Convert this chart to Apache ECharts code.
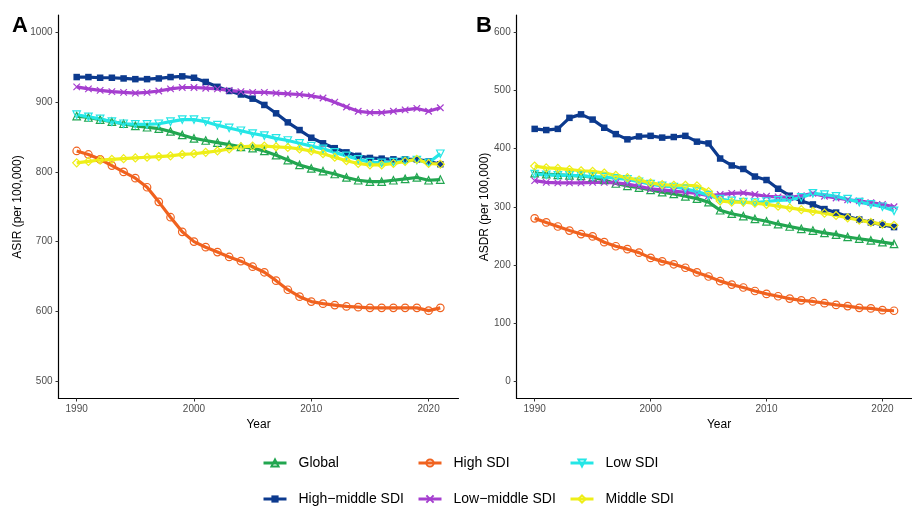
<!DOCTYPE html>
<html>
<head>
<meta charset="utf-8">
<script src="https://cdn.jsdelivr.net/npm/echarts@6/dist/echarts.min.js"></script>
<style>
html,body{margin:0;padding:0;background:#fff;}
#chart{width:912px;height:509px;}
</style>
</head>
<body>
<div id="chart"></div>
<script>
const years = [1990,1991,1992,1993,1994,1995,1996,1997,1998,1999,2000,2001,2002,2003,2004,2005,2006,2007,2008,2009,2010,2011,2012,2013,2014,2015,2016,2017,2018,2019,2020,2021];
const seriesNames = ['Global','High−middle SDI','High SDI','Low−middle SDI','Low SDI','Middle SDI'];
const xTicks = [1990,2000,2010,2020];
const asirTicks = [500,600,700,800,900,1000];
const asdrTicks = [0,100,200,300,400,500,600];

// Panel A: ASIR
const asirGlobal  = [880,878,875,872,869,866,864,862,858,853,848,845,842,839,836,834,830,824,817,810,805,801,797,792,788,786,786,788,790,792,788,789];
const asirHighMid = [936,936,935,935,934,933,933,934,936,937,935,929,922,916,911,905,896,884,871,860,849,841,834,828,823,820,819,818,818,818,815,811];
const asirHigh    = [830,825,818,809,800,791,778,757,735,714,700,692,685,678,672,664,656,644,631,621,614,611,609,607,606,605,605,605,605,605,601,605];
const asirLowMid  = [922,919,917,915,914,913,914,916,919,921,921,920,919,917,915,914,914,913,912,911,909,906,900,893,887,885,885,887,889,891,887,892];
const asirLow     = [882,879,876,872,869,868,868,869,872,875,875,872,867,863,859,855,852,848,845,841,837,833,828,823,818,814,813,814,816,817,813,826];
const asirMid     = [813,815,817,818,819,820,821,822,823,825,826,828,830,833,836,837,837,836,835,833,830,826,821,816,812,810,810,812,815,818,812,811];

// Panel B: ASDR
const asdrGlobal  = [358,356,355,354,353,351,346,340,336,333,329,325,322,318,314,308,294,288,284,279,275,270,266,262,259,255,252,248,245,242,239,236];
const asdrHighMid = [434,432,434,453,459,450,436,425,416,421,422,419,420,422,412,409,383,371,365,352,346,331,319,310,304,296,290,283,278,273,269,265];
const asdrHigh    = [280,273,266,259,253,249,239,232,227,221,212,206,201,195,187,180,172,166,161,155,150,146,142,139,137,134,131,129,126,125,122,121];
const asdrLowMid  = [345,342,341,341,341,342,342,341,339,335,331,329,327,325,323,319,321,323,324,321,318,317,316,319,323,318,315,312,310,307,304,300];
const asdrLow     = [356,355,354,354,353,352,351,349,347,343,339,336,334,331,326,320,313,310,308,307,309,311,312,316,323,321,318,313,308,304,300,293];
const asdrMid     = [370,367,366,364,362,361,358,354,350,346,341,338,337,337,336,326,310,308,308,306,304,301,298,295,292,289,285,281,277,273,270,268];

const asirData = [asirGlobal, asirHighMid, asirHigh, asirLowMid, asirLow, asirMid];
const asdrData = [asdrGlobal, asdrHighMid, asdrHigh, asdrLowMid, asdrLow, asdrMid];

const styles = {
  'Global':          {color:'#22A650', symbol:'triangle', rotate:0,   hollow:true,  size:7.5},
  'High−middle SDI': {color:'#0C3A8E', symbol:'rect',     rotate:0,   hollow:false, size:6.5},
  'High SDI':        {color:'#F0621F', symbol:'circle',   rotate:0,   hollow:true,  size:7.5},
  'Low−middle SDI':  {color:'#A53ECF', symbol:'path://M0,0L10,10M10,0L0,10', rotate:0, hollow:true, size:6.5},
  'Low SDI':         {color:'#24E6E6', symbol:'triangle', rotate:180, hollow:true,  size:7.5},
  'Middle SDI':      {color:'#EEEE18', symbol:'diamond',  rotate:0,   hollow:true,  size:8}
};

function makeSeries(name, values, idx) {
  const s = styles[name];
  return {
    type: 'line',
    name: name,
    xAxisIndex: idx,
    yAxisIndex: idx,
    data: years.map((y, i) => [y, values[i]]),
    symbol: s.symbol,
    symbolSize: s.size,
    symbolRotate: s.rotate,
    showAllSymbol: true,
    lineStyle: {color: s.color, width: 3.2},
    itemStyle: {
      color: s.hollow ? 'rgba(255,255,255,0)' : s.color,
      borderColor: s.color,
      borderWidth: s.hollow ? 1.2 : 0
    },
    emphasis: {disabled: true},
    animation: false
  };
}

const series = [];
seriesNames.forEach((n, i) => series.push(makeSeries(n, asirData[i], 0)));
seriesNames.forEach((n, i) => series.push(makeSeries(n, asdrData[i], 1)));

const labelStyle = {color:'#4D4D4D', fontSize:10, fontFamily:'Liberation Sans, Arial, sans-serif', formatter: v => String(v)};
function xAxis(idx) {
  return {
    type:'value', gridIndex: idx, min:1988.45, max:2022.55,
    axisLine:{show:true, onZero:false, lineStyle:{color:'#000', width:1.2}},
    axisTick:{show:true, length:3, customValues:xTicks, lineStyle:{color:'#333', width:1}},
    axisLabel:Object.assign({customValues:xTicks, margin:6}, labelStyle),
    splitLine:{show:false}
  };
}
function yAxis(idx, min, max, ticks) {
  return {
    type:'value', gridIndex: idx, min:min, max:max,
    axisLine:{show:true, onZero:false, lineStyle:{color:'#000', width:1.2}},
    axisTick:{show:true, length:3, customValues:ticks, lineStyle:{color:'#333', width:1}},
    axisLabel:Object.assign({customValues:ticks, margin:6}, labelStyle),
    splitLine:{show:false}
  };
}

const legendFont = {fontSize:14, color:'#000', fontFamily:'Liberation Sans, Arial, sans-serif', padding:[0,0,0,7]};
const legendPos = [
  ['Global', 262, 456], ['High SDI', 417, 456], ['Low SDI', 569, 456],
  ['High−middle SDI', 262, 492], ['Low−middle SDI', 417, 492], ['Middle SDI', 569, 492]
];
const legends = legendPos.map(p => ({
  data:[p[0]], left:p[1], top:p[2], itemWidth:23, itemHeight:9, padding:0,
  selectedMode:false, textStyle:legendFont, lineStyle:{width:3}
}));

const titleFont = 'Liberation Sans, Arial, sans-serif';
const option = {
  backgroundColor:'#fff',
  animation:false,
  grid:[
    {left:58.5, top:15, width:400, height:383.5},
    {left:516.7, top:15, width:404.7, height:383.5}
  ],
  xAxis:[xAxis(0), xAxis(1)],
  yAxis:[yAxis(0, 475, 1025, asirTicks), yAxis(1, -30, 630, asdrTicks)],
  legend: legends,
  series: series,
  graphic:[
    {type:'text', left:12, top:15, style:{text:'A', fontSize:22, fontWeight:'bold', fill:'#000', fontFamily:titleFont}},
    {type:'text', left:476, top:15, style:{text:'B', fontSize:22, fontWeight:'bold', fill:'#000', fontFamily:titleFont}},
    {type:'text', x:258.5, y:425, style:{text:'Year', fontSize:12, fill:'#000', align:'center', verticalAlign:'middle', fontFamily:titleFont}},
    {type:'text', x:719, y:425, style:{text:'Year', fontSize:12, fill:'#000', align:'center', verticalAlign:'middle', fontFamily:titleFont}},
    {type:'text', x:18, y:207, rotation:Math.PI/2, style:{text:'ASIR (per 100,000)', fontSize:12, fill:'#000', align:'center', verticalAlign:'middle', fontFamily:titleFont}},
    {type:'text', x:485, y:207, rotation:Math.PI/2, style:{text:'ASDR (per 100,000)', fontSize:12, fill:'#000', align:'center', verticalAlign:'middle', fontFamily:titleFont}}
  ]
};

const chart = echarts.init(document.getElementById('chart'), null, {renderer:'canvas'});
chart.setOption(option);
</script>
</body>
</html>
